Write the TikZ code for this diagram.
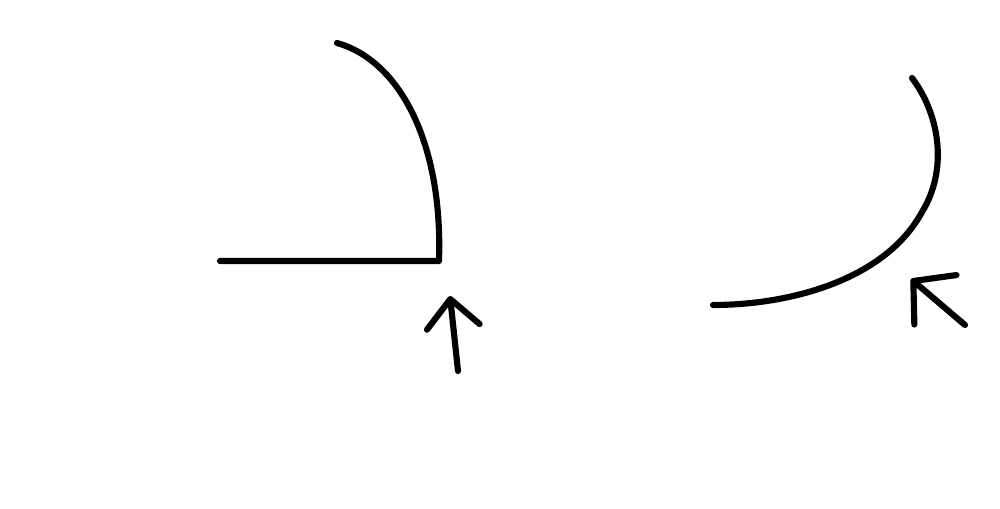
\documentclass[tikz,border=0pt]{standalone}
\usetikzlibrary{arrows.meta}
\begin{document}
\begin{tikzpicture}[x=0.02cm,y=-0.02cm,
    stroke/.style = {draw=black,line width=3.5pt,line cap=round,line join=round},
    pointer/.style = {stroke,-{Straight Barb[length=5.6mm,width=10.6mm,round]}}]
\useasboundingbox (0,0) rectangle (1000,509);
% left sketch: edge with a bend
\coordinate (base) at (220,261);
\coordinate (corner) at (439,261);
\coordinate (top) at (337,43);
\draw[stroke] (base) -- (corner) .. controls (443,140) and (398,60) .. (top);
\coordinate (tailA) at (458,371);
\coordinate (tipA) at (450,296);
\draw[pointer] (tailA) -- (tipA);
% right sketch: open arc
\coordinate (arcTop) at (912,78);
\coordinate (arcMid) at (922,212);
\coordinate (arcEnd) at (713,305);
\draw[stroke] (arcTop) .. controls (940,115) and (948,170) .. (arcMid)
    .. controls (885,280) and (790,305) .. (arcEnd);
\coordinate (tailB) at (965,325);
\coordinate (tipB) at (911,279);
\draw[pointer,-{Straight Barb[length=5.8mm,width=13mm,round]}] (tailB) -- (tipB);
\end{tikzpicture}
\end{document}
